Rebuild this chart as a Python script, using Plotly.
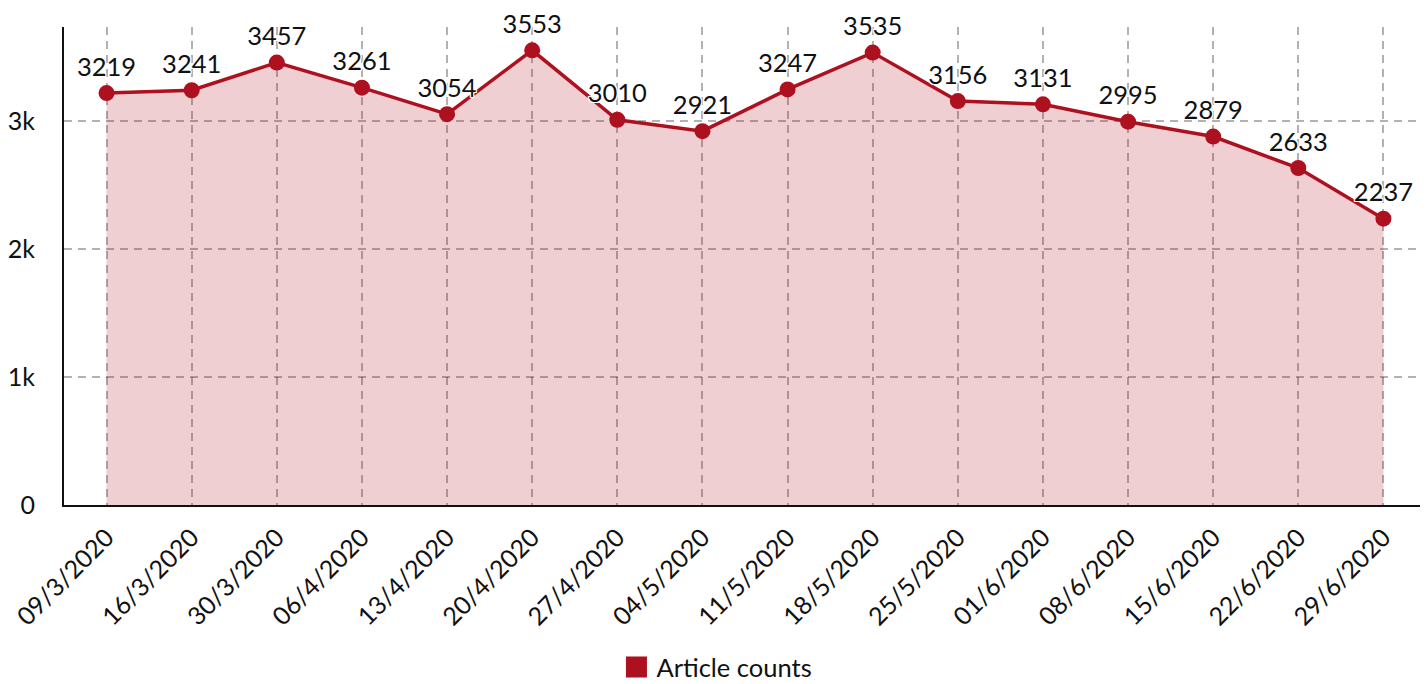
import plotly.graph_objects as go

dates = ["09/3/2020", "16/3/2020", "30/3/2020", "06/4/2020", "13/4/2020", "20/4/2020",
         "27/4/2020", "04/5/2020", "11/5/2020", "18/5/2020", "25/5/2020", "01/6/2020",
         "08/6/2020", "15/6/2020", "22/6/2020", "29/6/2020"]
counts = [3219, 3241, 3457, 3261, 3054, 3553, 3010, 2921, 3247, 3535, 3156, 3131,
          2995, 2879, 2633, 2237]
series_name = "Article counts"
y_tickvals = [0, 1000, 2000, 3000]
y_ticktext = ["0", "1k", "2k", "3k"]

RED = "#ad101e"
FONT = "Lato, 'Open Sans', sans-serif"
halo = ("-1px -1px 0 #fff, 1px -1px 0 #fff, -1px 1px 0 #fff, 1px 1px 0 #fff, "
        "0 -1px 0 #fff, 0 1px 0 #fff, -1px 0 0 #fff, 1px 0 0 #fff")

fig = go.Figure()
fig.add_trace(go.Scatter(
    x=dates, y=counts, mode="lines+markers+text",
    text=[str(v) for v in counts], textposition="top center",
    textfont=dict(family=FONT, size=25.5, color="#111", shadow=halo),
    line=dict(color=RED, width=3.5), marker=dict(color=RED, size=16),
    fill="tozeroy", fillcolor="rgba(173,16,30,0.2)",
    showlegend=False, hoverinfo="x+y", cliponaxis=False,
))
fig.add_trace(go.Scatter(
    x=[None], y=[None], mode="markers", name=series_name,
    marker=dict(color=RED, size=16, symbol="square", line=dict(color=RED, width=5)),
    showlegend=True,
))

grid = dict(showgrid=True, gridcolor="rgba(0,0,0,0.3)", gridwidth=1.5, griddash="8px,6px")
fig.update_layout(
    width=1420, height=676,
    margin=dict(l=56, r=2, t=19, b=179, autoexpand=False),
    paper_bgcolor="white", plot_bgcolor="white",
    font=dict(family=FONT, size=25, color="#111"),
    showlegend=True,
    legend=dict(orientation="h", x=0.4794, y=-0.34, xanchor="center", yanchor="middle",
                font=dict(size=25.5), itemsizing="trace"),
    xaxis=dict(type="category", range=[-0.5, 15.5], tickangle=-45, automargin=False,
               showline=True, linecolor="#111", linewidth=2, ticks="",
               ticklabelstandoff=6, zeroline=False, **grid),
    yaxis=dict(range=[0, 3735], tickvals=y_tickvals, ticktext=y_ticktext, automargin=False,
               showline=True, linecolor="#111", linewidth=2, ticks="",
               ticklabelstandoff=22, zeroline=False, **grid),
)
fig.write_html("out.html")
